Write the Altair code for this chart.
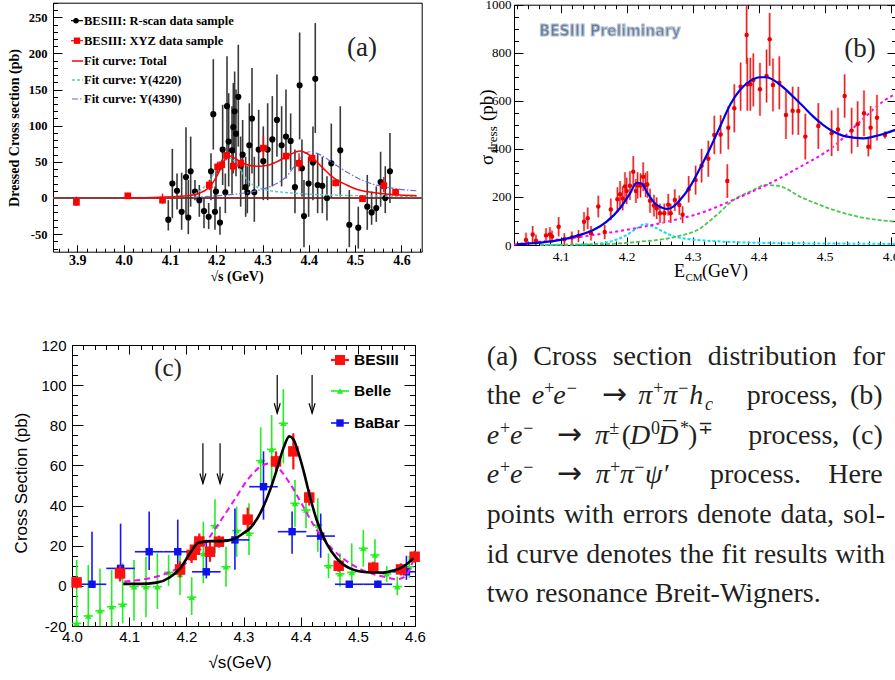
import altair as alt
import pandas as pd

W, H = 895, 680

# ====================== DATA ======================
# ---- (a) e+e- -> pi+ pi- h_c ----
a_rscan_E = [4.0965, 4.1052, 4.1153, 4.1253, 4.1347, 4.1397, 4.1448, 4.1541, 4.1635, 4.1736,
             4.1837, 4.1887, 4.1937, 4.1973, 4.1995, 4.2081, 4.2139, 4.2197, 4.2233, 4.2269,
             4.2341, 4.2369, 4.2398, 4.2427, 4.2477, 4.2528, 4.2571, 4.2636, 4.2672, 4.2715,
             4.2773, 4.2823, 4.2917, 4.3017, 4.3111, 4.3212, 4.3312, 4.3413, 4.3507, 4.3608,
             4.3701, 4.3802, 4.3852, 4.3896, 4.3996, 4.4090, 4.4140, 4.4191, 4.4292, 4.4392,
             4.4486, 4.4680, 4.4875, 4.5069, 4.5263, 4.5357, 4.5458, 4.5551, 4.5652, 4.5753]
a_rscan_v = [-30, 20, 10, -19, 29, -27, 37, 9, -3, -18,
             -26, 37, 116, -19, 9, -34, 67, 8, 127, 78,
             66, 98, 120, 89, 140, 44, 60, 15, 8, 73,
             110, 8, 67, 51, 67, 81, 108, 73, 85, 79,
             15, 156, 41, -25, 20, 49, 165, 18, 17, 0,
             48, 66, -37, -41, -12, -20, -14, 22, 0, 37]
a_rscan_lo = [-45, -28, -16, -44, -26, -50, -12, -3, -26, -42,
              -43, -3, 67, -44, -20, -51, 18, -21, 57, 16,
              6, 34, 62, 30, 71, -12, 11, -26, -21, 16,
              34, -33, 16, -3, -3, 16, 57, 16, 27, 39,
              -21, 81, 2, -68, -26, -3, 90, -21, -21, -31,
              0, 2, -68, -70, -44, -37, -33, -12, -21, -7]
a_rscan_hi = [-3, 68, 34, 35, 98, 25, 85, 25, 18, 0,
              -7, 62, 192, 16, 40, -12, 129, 34, 196, 145,
              127, 159, 175, 150, 212, 85, 108, 57, 44, 131,
              180, 57, 122, 99, 131, 141, 171, 127, 150, 117,
              67, 229, 81, 25, 57, 99, 242, 62, 57, 30,
              103, 127, 11, -12, 32, 9, 16, 64, 44, 90]
a_xyz_E = [3.898, 4.009, 4.084, 4.185, 4.203, 4.212, 4.2225, 4.237, 4.253,
           4.302, 4.351, 4.379, 4.407, 4.458, 4.516, 4.562, 4.5875]
a_xyz_v = [-6, 3, -3, 18, 43, 46, 59, 44, 48, 69, 58, 48, 55, 21, -1, 17, 8]
a_xyz_lo = [-11, 0, -8, 11, 34, 39, 53, 37, 42, 57, 53, 37, 51, 16, -5, 8, 5]
a_xyz_hi = [2, 6, 6, 25, 50, 53, 64, 50, 54, 86, 62, 62, 60, 26, 4, 29, 11]
a_tot_E = [4.0066, 4.0785, 4.1145, 4.1505, 4.1649, 4.1793, 4.1937, 4.2045, 4.2153, 4.2225,
           4.2297, 4.2369, 4.2477, 4.2585, 4.2729, 4.2946, 4.3161, 4.3305, 4.3449, 4.3593,
           4.3737, 4.3809, 4.3881, 4.4025, 4.4169, 4.4313, 4.4457, 4.4601, 4.4817, 4.5033,
           4.5249, 4.5609, 4.5969, 4.6329]
a_tot_v = [0, 1, 2, 4, 7, 12, 22, 34, 49, 57,
           58, 56, 52, 48, 45, 44, 46, 50, 55, 60,
           64, 65, 64, 59, 50, 41, 32, 25, 18, 12,
           9, 6, 4, 3]
a_y4220_E = [4.0785, 4.1361, 4.1649, 4.1865, 4.2009, 4.2153, 4.2297, 4.2405, 4.2513, 4.2657,
             4.2801, 4.3089, 4.3449, 4.3809, 4.4529, 4.5249, 4.6329]
a_y4220_v = [1, 3, 10, 25, 40, 50, 55, 50, 40, 26, 18, 11, 8, 6, 4, 3, 2]
a_y4390_E = [4.1505, 4.2009, 4.2369, 4.2729, 4.3089, 4.3305, 4.3521, 4.3665, 4.3773, 4.3881,
             4.4025, 4.4241, 4.4529, 4.4817, 4.5105, 4.5393, 4.5681, 4.5969, 4.6329]
a_y4390_v = [1, 3, 5, 8, 14, 20, 30, 42, 52, 60, 64, 60, 48, 36, 26, 19, 15, 12, 10]
a_xticks = [3.9, 4.0, 4.1, 4.2, 4.3, 4.4, 4.5, 4.6]
a_yticks = [-50, 0, 50, 100, 150, 200, 250]

# ---- (b) e+e- -> pi (D0 D*bar) ----
b_E = [4.0475, 4.0576, 4.0626, 4.0778, 4.0838, 4.0869, 4.097, 4.1056, 4.117, 4.127,
       4.1354, 4.141, 4.146, 4.157, 4.1667, 4.176, 4.186, 4.19, 4.194, 4.1975,
       4.2, 4.205, 4.21, 4.214, 4.2166, 4.221, 4.225, 4.2288, 4.2313, 4.2354,
       4.2414, 4.2455, 4.2505, 4.257, 4.263, 4.2667, 4.273, 4.2798, 4.2848, 4.294,
       4.3045, 4.3136, 4.3237, 4.3328, 4.3424, 4.3525, 4.354, 4.3631, 4.3727, 4.3818,
       4.3828, 4.3874, 4.3919, 4.402, 4.412, 4.4167, 4.4217, 4.4313, 4.4414, 4.4515,
       4.4601, 4.4707, 4.4904, 4.5106, 4.5202, 4.5303, 4.5409, 4.55, 4.5596, 4.5662,
       4.5697, 4.5793, 4.5914]
b_v = [21, 44, 18, 40, 44, 35, 76, 24, 31, 37,
       97, 111, 49, 160, 54, 148, 190, 211, 194, 243,
       225, 247, 305, 225, 248, 248, 284, 250, 252, 184,
       164, 153, 132, 132, 168, 132, 187, 166, 126, 232,
       270, 330, 359, 458, 460, 266, 488, 569, 659, 874,
       669, 669, 687, 648, 703, 856, 666, 675, 541, 559,
       558, 451, 495, 465, 481, 620, 476, 503, 548, 409,
       488, 530, 458]
b_err = [30, 35, 25, 30, 30, 25, 40, 25, 25, 25,
         40, 45, 30, 45, 30, 45, 50, 55, 50, 60,
         55, 60, 65, 50, 55, 50, 60, 50, 55, 50,
         45, 45, 40, 40, 45, 40, 45, 40, 35, 55,
         60, 70, 75, 80, 80, 70, 90, 100, 100, 120,
         110, 110, 110, 110, 110, 110, 110, 110, 100, 100,
         100, 95, 95, 95, 90, 90, 95, 95, 95, 40,
         90, 95, 15]
b_fit_E = [4.0333, 4.0687, 4.1, 4.1293, 4.1495, 4.1697, 4.1899, 4.2051, 4.2152, 4.2227,
           4.2303, 4.2429, 4.2556, 4.2606, 4.2707, 4.2808, 4.296, 4.3111, 4.3263, 4.3414,
           4.3566, 4.3717, 4.3869, 4.402, 4.4121, 4.4222, 4.4374, 4.4525, 4.4677, 4.4828,
           4.498, 4.5131, 4.5283, 4.5434, 4.5586, 4.5737, 4.5889, 4.6091]
b_fit_v = [3, 10, 21, 42, 62, 97, 153, 215, 259, 256,
           222, 173, 153, 150, 160, 187, 243, 319, 402, 492,
           583, 645, 682, 698, 698, 687, 656, 617, 576, 534,
           499, 472, 454, 447, 444, 451, 462, 480]
b_bkg_E = [4.0293, 4.0687, 4.1242, 4.1747, 4.2253, 4.2707, 4.3111, 4.3616, 4.4121, 4.4626,
           4.5131, 4.5535, 4.5914, 4.6081]
b_bkg_v = [2, 14, 32, 52, 76, 103, 132, 188, 250, 325, 409, 513, 603, 630]
b_r2_E = [4.0687, 4.1697, 4.2202, 4.2707, 4.3111, 4.3364, 4.3616, 4.3869, 4.4121, 4.4373,
          4.4626, 4.4879, 4.5131, 4.5383, 4.5636, 4.5888, 4.6081]
b_r2_v = [0, 4, 14, 32, 69, 125, 187, 222, 250, 240, 201, 172, 146, 126, 111, 102, 97]
b_r1_E = [4.0687, 4.1444, 4.1798, 4.2, 4.2152, 4.2278, 4.2404, 4.2556, 4.2707, 4.296,
          4.3212, 4.3717, 4.4222, 4.5232, 4.6081]
b_r1_v = [0, 3, 18, 42, 69, 87, 76, 55, 37, 24, 18, 11, 8, 6, 4]
b_xticks = [4.1, 4.2, 4.3, 4.4, 4.5, 4.6]
b_yticks = [0, 200, 400, 600, 800, 1000]

# ---- (c) e+e- -> pi+ pi- psi' ----
c_bes_E = [4.008, 4.084, 4.189, 4.2093, 4.215, 4.2227, 4.2414, 4.257, 4.3073, 4.3569,
           4.3872, 4.415, 4.4665, 4.527, 4.5755, 4.5994]
c_bes_v = [1.7, 6.2, 8.2, 15.4, 18, 22.1, 17, 22, 33, 62, 67, 44, 10, 9, 8.2, 14.5]
c_bes_err = [3, 4, 4, 4, 4, 4, 5, 3, 6, 5, 9, 4, 3, 3, 3, 3]
c_belle_E = [4.0082, 4.0285, 4.049, 4.0694, 4.0886, 4.1085, 4.1294, 4.1493, 4.169, 4.189,
             4.2094, 4.2297, 4.2501, 4.2694, 4.288, 4.3096, 4.3301, 4.3493, 4.3697, 4.3901,
             4.4093, 4.43, 4.4487, 4.4688, 4.4893, 4.5096, 4.53, 4.5505, 4.569, 4.59]
c_belle_v = [-18.7, -15.0, -12.4, -10.4, -9.2, -0.4, -0.4, -0.4, 6.7, 5.7,
             -5.7, 16, 30, 9.5, 27.5, 26.2, 62.4, 68, 81, 41.1,
             37.8, 30.3, 10, 6, 6.7, 18.7, 15.4, 6, -0.4, 9.5]
c_belle_lo = [-20, -20, -20, -20, -18.7, -17.3, -15.6, -11.5, 0, -4.6,
              -14.5, 1.3, 16.2, -0.4, 14.5, 15.4, 49.4, 51.1, 61, 29.5,
              28.7, 17, 3.8, -0.4, -0.4, 9.5, 7.9, 2, -4.6, 4]
c_belle_hi = [12.9, 10.4, 8.7, 7.9, 11.2, 12.9, 14.5, 16.2, 15.4, 16.5,
              4.3, 32, 43.1, 19.5, 39.4, 41.1, 79, 85.1, 98, 52.7,
              46.9, 43.6, 16.2, 16.2, 21.2, 27.8, 23.2, 10, 4.6, 15]
c_babar_E = [4.035, 4.085, 4.135, 4.185, 4.235, 4.285, 4.335, 4.385, 4.435, 4.485, 4.535, 4.585]
c_babar_v = [0.8, 8.7, 17, 17, 7, 22.9, 49.4, 27, 24.8, 0.8, 0.8, 7]
c_babar_lo = [-1, 3, 7.9, 7.9, 3.7, 8, 33, 16, 14, -1, -1, 3]
c_babar_hi = [27, 31, 37, 33, 23, 38.6, 67, 37, 36, 2.5, 2.5, 15]
c_babar_bin = [0.025] * 12
c_fit_E = [4.0898, 4.119, 4.148, 4.1714, 4.189, 4.2064, 4.221, 4.2414, 4.262, 4.282,
           4.2997, 4.3114, 4.3289, 4.3464, 4.358, 4.3697, 4.3802, 4.3872, 4.393, 4.4047,
           4.4163, 4.428, 4.4455, 4.463, 4.4863, 4.5155, 4.5446, 4.5621, 4.5796, 4.5971]
c_fit_v = [1, 1, 1.6, 4.3, 8.7, 16.2, 21.5, 22.3, 22.3, 23.2,
           26.2, 28.7, 36, 47.7, 57.7, 68.5, 74.5, 73, 69, 57.7,
           44.4, 32.8, 21, 13.7, 8.7, 6.8, 6.6, 7.6, 9.6, 13.7]
c_alt_E = [4.0915, 4.1364, 4.1656, 4.1948, 4.2239, 4.2531, 4.2822, 4.3114, 4.3347, 4.3464,
           4.358, 4.3813, 4.4047, 4.428, 4.4571, 4.4863, 4.5155, 4.5446, 4.5679, 4.5825,
           4.5971]
c_alt_v = [2.2, 3.8, 6.2, 10.4, 17.9, 29.5, 42, 54.4, 60.2, 61,
           59.4, 51, 39.4, 27.8, 17.9, 11.2, 7, 4.6, 3.3, 4.6,
           12.9]
c_arrow_E = [4.229, 4.259, 4.359, 4.42]
c_arrow_top = [71, 71, 105, 105]
c_arrow_tip = [51, 51, 86, 86]
c_xticks = [4.0, 4.1, 4.2, 4.3, 4.4, 4.5, 4.6]
c_yticks = [-20, 0, 20, 40, 60, 80, 100, 120]

# ---- caption words ----
cap_line1 = ['(a)', 'Cross', 'section', 'distribution', 'for']
cap_line5 = ['points', 'with', 'errors', 'denote', 'data,', 'sol-']
cap_line6 = ['id', 'curve', 'denotes', 'the', 'fit', 'results', 'with']
cap_line7 = 'two resonance Breit-Wigners.'

# ====================== LAYOUT ======================
PA = dict(L=53, R=421.7, T=2.7, B=251.7, xd=[3.8474, 4.6439], yd=[-74.3, 270.2])
PB = dict(L=514, R=896, T=4.7, B=245, xd=[4.0293, 4.6081], yd=[0, 1000])
PC = dict(L=72, R=415, T=345, B=626, xd=[4.0, 4.6], yd=[-20, 120])


def xs(P):
    return alt.Scale(domain=P['xd'], range=[P['L'], P['R']], nice=False, zero=False, clamp=True)


def ys(P):
    return alt.Scale(domain=P['yd'], range=[P['B'], P['T']], nice=False, zero=False, clamp=True)


def inside(vals, dom):
    return [v for v in vals if dom[0] - 1e-9 <= v <= dom[1] + 1e-9]


def axis(orient, offset, values=None, size=0, labels=False, domain=False, **kw):
    d = dict(orient=orient, offset=offset, labels=labels, domain=domain, grid=False, title=None,
             domainColor='black', domainWidth=1, tickColor='black', tickWidth=1,
             labelFlush=False, labelOverlap=False, labelColor='black')
    if values is not None:
        d['values'] = values
    if size > 0:
        d['ticks'] = True
        d['tickSize'] = size
    else:
        d['ticks'] = False
    d.update(kw)
    return alt.Axis(**d)


def carrier(P, xax, yax):
    df = pd.DataFrame({'x': P['xd'], 'y': P['yd']})
    return alt.Chart(df).mark_point(opacity=0).encode(
        x=alt.X('x:Q', scale=xs(P), axis=xax),
        y=alt.Y('y:Q', scale=ys(P), axis=yax))


def frame_axes(P, xt, yt, xminor, yminor, xmaj, xmin, ymaj, ymin, lab_x, lab_y, all_sides=True):
    L, R, T, B = P['L'], P['R'], P['T'], P['B']
    out = [
        carrier(P, axis('bottom', B - H, xt, labels=True, **lab_x),
               axis('left', -L, yt, labels=True, labelExpr='datum.value', **lab_y)),
        carrier(P, axis('top', -B, xt, size=xmaj, domain=True),
               axis('right', L - W, yt, size=ymaj, domain=True)),
        carrier(P, axis('top', -B, xminor, size=xmin),
               axis('right', L - W, yminor, size=ymin)),
    ]
    if all_sides:
        out += [
            carrier(P, axis('bottom', T - H, xt, size=xmaj, domain=True),
                   axis('left', -R, yt, size=ymaj, domain=True)),
            carrier(P, axis('bottom', T - H, xminor, size=xmin),
                   axis('left', -R, yminor, size=ymin)),
        ]
    else:
        out += [carrier(P, axis('bottom', T - H, domain=True), axis('left', -R, domain=True))]
    return out


def vbar(P, df, x, lo, hi, color, width, opacity=1.0):
    return alt.Chart(df).mark_rule(color=color, strokeWidth=width, opacity=opacity).encode(
        x=alt.X(f'{x}:Q', scale=xs(P), axis=None),
        y=alt.Y(f'{lo}:Q', scale=ys(P), axis=None), y2=f'{hi}:Q')


def hbar(P, df, x1, x2, y, color, width):
    return alt.Chart(df).mark_rule(color=color, strokeWidth=width).encode(
        x=alt.X(f'{x1}:Q', scale=xs(P), axis=None), x2=f'{x2}:Q',
        y=alt.Y(f'{y}:Q', scale=ys(P), axis=None))


def curve(P, df, color, width, dash=None):
    mk = dict(color=color, strokeWidth=width, interpolate='monotone')
    if dash:
        mk['strokeDash'] = dash
    return alt.Chart(df).mark_line(**mk).encode(
        x=alt.X('E:Q', scale=xs(P), axis=None),
        y=alt.Y('v:Q', scale=ys(P), axis=None))


def marks(P, df, shape, size, color, x='E', y='v'):
    return alt.Chart(df).mark_point(shape=shape, size=size, filled=True, color=color, opacity=1,
                                    strokeWidth=0).encode(
        x=alt.X(f'{x}:Q', scale=xs(P), axis=None),
        y=alt.Y(f'{y}:Q', scale=ys(P), axis=None))


def ptext(rows, **mk):
    df = pd.DataFrame(rows, columns=['x', 'y', 't'])
    return alt.Chart(df).mark_text(**mk).encode(
        x=alt.X('x:Q', scale=None, axis=None),
        y=alt.Y('y:Q', scale=None, axis=None), text='t:N')


def prule(rows, color, width, dash=None):
    df = pd.DataFrame(rows, columns=['x', 'x2', 'y'])
    mk = dict(color=color, strokeWidth=width)
    if dash:
        mk['strokeDash'] = dash
    return alt.Chart(df).mark_rule(**mk).encode(
        x=alt.X('x:Q', scale=None, axis=None), x2='x2:Q',
        y=alt.Y('y:Q', scale=None, axis=None))


def pmark(rows, shape, size, color):
    df = pd.DataFrame(rows, columns=['x', 'y'])
    return alt.Chart(df).mark_point(shape=shape, size=size, filled=True, color=color, opacity=1,
                                    strokeWidth=0).encode(
        x=alt.X('x:Q', scale=None, axis=None), y=alt.Y('y:Q', scale=None, axis=None))


# Times / Liberation Serif advance widths (per em) for justified caption lines
TW = {' ': .25, '(': .333, ')': .333, ',': .25, '.': .25, '-': .333,
      'a': .444, 'b': .5, 'c': .444, 'd': .5, 'e': .444, 'f': .333, 'g': .5, 'h': .5, 'i': .278,
      'l': .278, 'm': .778, 'n': .5, 'o': .5, 'p': .5, 'r': .333, 's': .389, 't': .278, 'u': .5,
      'v': .5, 'w': .722, 'C': .667, 'B': .667, 'W': .944}


def justify(words, x0, x1, y, size):
    widths = [sum(TW.get(ch, .5) for ch in w) * size for w in words]
    gap = (x1 - x0 - sum(widths)) / (len(words) - 1)
    out, x = [], x0
    for w, wd in zip(words, widths):
        out.append((x, y, w))
        x += wd + gap
    return out


SERIF = 'Liberation Serif'
SANS = 'Liberation Sans'
layers = []

# ====================== PANEL (a) ======================
dA_r = pd.DataFrame({'E': a_rscan_E, 'v': a_rscan_v, 'lo': a_rscan_lo, 'hi': a_rscan_hi})
dA_x = pd.DataFrame({'E': a_xyz_E, 'v': a_xyz_v, 'lo': a_xyz_lo, 'hi': a_xyz_hi})
dA_zero = pd.DataFrame({'E': PA['xd'], 'v': [0, 0]})
a_xminor = inside([round(3.86 + 0.02 * i, 3) for i in range(45)], PA['xd'])
a_yminor = inside([-70 + 10 * i for i in range(40)], PA['yd'])
layers += frame_axes(PA, a_xticks, a_yticks, a_xminor, a_yminor, 7, 3.5, 9, 4.5,
                     dict(format='.1f', labelFont=SERIF, labelFontWeight='bold', labelFontSize=14,
                          labelPadding=2),
                     dict(labelFont=SERIF, labelFontWeight='bold', labelFontSize=12.5, labelPadding=6),
                     all_sides=False)
layers += [
    curve(PA, dA_zero, '#8b3a3a', 2),
    vbar(PA, dA_r, 'E', 'lo', 'hi', '#3a3a3a', 1.6),
    marks(PA, dA_r, 'circle', 38, 'black'),
    curve(PA, pd.DataFrame({'E': a_y4220_E, 'v': a_y4220_v}), '#5cc8c8', 1.4, [3, 2]),
    curve(PA, pd.DataFrame({'E': a_y4390_E, 'v': a_y4390_v}), '#6a6ad8', 1.2, [6, 2, 1.5, 2]),
    curve(PA, pd.DataFrame({'E': a_tot_E, 'v': a_tot_v}), '#ff0000', 1.5),
    vbar(PA, dA_x, 'E', 'lo', 'hi', '#ff0000', 1.4),
    marks(PA, dA_x, 'square', 45, '#ff0000'),
]
leg_a_y = [20.7, 40.7, 61, 80, 99]
layers += [
    prule([(71, 83, leg_a_y[0])], 'black', 1.2),
    pmark([(76, leg_a_y[0])], 'circle', 30, 'black'),
    prule([(71, 83, leg_a_y[1])], '#ff0000', 1.2),
    pmark([(77, leg_a_y[1])], 'square', 40, '#ff0000'),
    prule([(72, 83, leg_a_y[2])], '#ff0000', 1.5),
    prule([(72, 83, leg_a_y[3])], '#5cc8c8', 1.4, [3, 2]),
    prule([(72, 83, leg_a_y[4])], '#6a6ad8', 1.2, [6, 2, 1.5, 2]),
    ptext([(84, leg_a_y[0], 'BESIII: R-scan data sample'),
           (84, leg_a_y[1], 'BESIII: XYZ data sample'),
           (84, leg_a_y[2], 'Fit curve: Total'),
           (84, leg_a_y[3], 'Fit curve: Y(4220)'),
           (84, leg_a_y[4], 'Fit curve: Y(4390)')],
          font=SERIF, fontSize=12.5, fontWeight='bold', align='left', baseline='middle', color='black'),
    ptext([(15, 128, 'Dressed Cross section (pb)')], font=SERIF, fontSize=14, fontWeight='bold',
          angle=270, align='center', baseline='middle', color='black'),
    ptext([(237, 277, '√s (GeV)')], font=SERIF, fontSize=14, fontWeight='bold',
          align='center', baseline='middle', color='black'),
    ptext([(362, 48, '(a)')], font=SERIF, fontSize=27, align='center', baseline='middle', color='#222222'),
]

# ====================== PANEL (b) ======================
dB = pd.DataFrame({'E': b_E, 'v': b_v, 'err': b_err})
dB = dB.assign(lo=dB.v - dB.err, hi=dB.v + dB.err)
b_xminor = inside([round(4.1 + k / 60.0, 4) for k in range(-4, 32)], PB['xd'])
b_yminor = [50 * i for i in range(21)]
layers += frame_axes(PB, b_xticks, b_yticks, b_xminor, b_yminor, 8, 4, 9, 4.5,
                     dict(format='.1f', labelFont=SERIF, labelFontSize=13.5, labelPadding=4),
                     dict(labelFont=SERIF, labelFontSize=13, labelPadding=3))
layers += [
    curve(PB, pd.DataFrame({'E': b_r1_E, 'v': b_r1_v}), '#00e5ee', 2, [3, 2]),
    curve(PB, pd.DataFrame({'E': b_r2_E, 'v': b_r2_v}), '#4cc84c', 1.8, [4, 2]),
    curve(PB, pd.DataFrame({'E': b_bkg_E, 'v': b_bkg_v}), '#ff00ff', 2, [3, 3]),
    vbar(PB, dB, 'E', 'lo', 'hi', '#f4a0a0', 2.4),
    vbar(PB, dB, 'E', 'lo', 'hi', '#e81010', 1),
    marks(PB, dB, 'circle', 20, '#ee0000'),
    curve(PB, pd.DataFrame({'E': b_fit_E, 'v': b_fit_v}), '#0000e8', 2.2),
    ptext([(610, 31, 'BESIII Preliminary')],
          font='Liberation Sans Narrow, DejaVu Sans Condensed, Liberation Sans', fontSize=15.5,
          fontWeight='bold', align='center', baseline='middle', color='#5e7190',
          stroke='#b3bfd0', strokeWidth=1.1),
    ptext([(860, 49, '(b)')], font=SERIF, fontSize=27, align='center', baseline='middle', color='#222222'),
    ptext([(674, 276.5, 'E'), (702, 276.5, '(GeV)')], font=SERIF, fontSize=18, align='left',
          baseline='alphabetic', color='black'),
    ptext([(685.5, 281, 'CM')], font=SERIF, fontSize=11, align='left', baseline='alphabetic', color='black'),
    ptext([(493, 165, 'σ'), (493, 121, '(pb)')], font=SERIF, fontSize=19, angle=270, align='left',
          baseline='alphabetic', color='black'),
    ptext([(497, 153, 'dress')], font=SERIF, fontSize=13, angle=270, align='left',
          baseline='alphabetic', color='black'),
]

# ====================== PANEL (c) ======================
dC_b = pd.DataFrame({'E': c_bes_E, 'v': c_bes_v, 'err': c_bes_err})
dC_b = dC_b.assign(lo=dC_b.v - dC_b.err, hi=dC_b.v + dC_b.err)
dC_l = pd.DataFrame({'E': c_belle_E, 'v': c_belle_v, 'lo': c_belle_lo, 'hi': c_belle_hi})
dC_l = dC_l.assign(xl=dC_l.E - 0.008, xh=dC_l.E + 0.008)
dC_y = pd.DataFrame({'E': c_babar_E, 'v': c_babar_v, 'lo': c_babar_lo, 'hi': c_babar_hi, 'bw': c_babar_bin})
dC_y = dC_y.assign(xl=dC_y.E - dC_y.bw, xh=dC_y.E + dC_y.bw)
dC_a = pd.DataFrame({'E': c_arrow_E, 'top': c_arrow_top, 'tip': c_arrow_tip})
c_xminor = [round(4.0 + 0.02 * i, 3) for i in range(31)]
c_yminor = [-20 + 5 * i for i in range(29)]
layers += frame_axes(PC, c_xticks, c_yticks, c_xminor, c_yminor, 9, 4.5, 11, 5.5,
                     dict(format='.1f', labelFont=SANS, labelFontSize=15, labelPadding=3),
                     dict(labelFont=SANS, labelFontSize=15, labelPadding=6))
layers += [
    vbar(PC, dC_l, 'E', 'lo', 'hi', '#22ee22', 1.6),
    hbar(PC, dC_l, 'xl', 'xh', 'v', '#22ee22', 1.6),
    marks(PC, dC_l, 'triangle-up', 42, '#22ee22'),
    vbar(PC, dC_y, 'E', 'lo', 'hi', '#1515ff', 1.6),
    hbar(PC, dC_y, 'xl', 'xh', 'v', '#1515ff', 1.6),
    marks(PC, dC_y, 'square', 55, '#1010ee'),
    curve(PC, pd.DataFrame({'E': c_alt_E, 'v': c_alt_v}), '#ee10ee', 2, [6, 4]),
    vbar(PC, dC_b, 'E', 'lo', 'hi', '#ff1010', 2.2),
    marks(PC, dC_b, 'square', 110, '#ff1010'),
    curve(PC, pd.DataFrame({'E': c_fit_E, 'v': c_fit_v}), 'black', 2.6),
    vbar(PC, dC_a, 'E', 'tip', 'top', 'black', 1.2),
    alt.Chart(dC_a).mark_point(shape='M-0.3,-1L0,0L0.3,-1', size=400, filled=False, color='black',
                               strokeWidth=1.2, opacity=1).encode(
        x=alt.X('E:Q', scale=xs(PC), axis=None), y=alt.Y('tip:Q', scale=ys(PC), axis=None)),
    prule([(331, 349, 360)], '#ff1010', 2.2),
    pmark([(340, 360)], 'square', 100, '#ff1010'),
    prule([(331, 349, 391)], '#22ee22', 1.6),
    pmark([(340, 391)], 'triangle-up', 42, '#22ee22'),
    prule([(331, 349, 423)], '#1515ff', 1.6),
    pmark([(340, 423)], 'square', 55, '#1010ee'),
    ptext([(354, 360, 'BESIII'), (354, 391, 'Belle'), (354, 423, 'BaBar')], font=SANS, fontSize=15.5,
          fontWeight='bold', align='left', baseline='middle', color='black'),
    ptext([(22, 483, 'Cross Section (pb)')], font=SANS, fontSize=17, angle=270, align='center',
          baseline='middle', color='black'),
    ptext([(240, 663, '√s(GeV)')], font=SANS, fontSize=17, align='center', baseline='middle', color='black'),
    ptext([(168, 368, '(c)')], font=SERIF, fontSize=25, align='center', baseline='middle', color='#222222'),
]

# ====================== CAPTION ======================
L1, L2, L3, L4, L5, L6, L7 = 365, 404, 443.5, 483.3, 522.7, 562.7, 601.5
CX0, CX1, CFS = 486.7, 885, 28
cap_up = (justify(cap_line1, CX0, CX1, L1, CFS) + justify(cap_line5, CX0, CX1, L5, CFS)
          + justify(cap_line6, CX0, CX1, L6, CFS) + [(CX0, L7, cap_line7)] + [
    (486.7, L2, 'the'), (746.7, L2, 'process,'), (850, L2, '(b)'),
    (621.7, L3, '('), (688, L3, ')'), (748.3, L3, 'process,'), (851.7, L3, '(c)'),
    (664, L4, '′'), (710, L4, 'process.'), (828.3, L4, 'Here'),
])
cap_arrow = [(601.7, L2, '→'), (556.7, L3, '→'), (556.7, L4, '→')]
cap_it = [
    (531.7, L2, 'e'), (553.3, L2, 'e'), (638.3, L2, 'π'), (663.3, L2, 'π'), (689.3, L2, 'h'),
    (486.7, L3, 'e'), (510, L3, 'e'), (595, L3, 'π'), (630, L3, 'D'), (658.3, L3, 'D'),
    (486.7, L4, 'e'), (510, L4, 'e'), (595.7, L4, 'π'), (620, L4, 'π'), (645, L4, 'ψ'),
]
cap_sup = [
    (544.3, L2 - 10, '+'), (566.7, L2 - 10, '−'), (653.3, L2 - 10, '+'), (678.3, L2 - 10, '−'),
    (500, L3 - 10, '+'), (523.3, L3 - 10, '−'), (609.3, L3 - 10, '±'), (651, L3 - 10, '0'),
    (680, L3 - 10, '*'), (698, L3 - 10, '∓'),
    (500, L4 - 10, '+'), (523.3, L4 - 10, '−'), (610, L4 - 10, '+'), (634.3, L4 - 10, '−'),
]
CAPC = '#231f20'
layers += [
    ptext(cap_up, font=SERIF, fontSize=CFS, align='left', baseline='alphabetic', color=CAPC),
    ptext(cap_arrow, font='DejaVu Sans', fontSize=30, align='left', baseline='alphabetic', color=CAPC),
    ptext(cap_it, font=SERIF, fontSize=CFS, fontStyle='italic', align='left', baseline='alphabetic', color=CAPC),
    ptext(cap_sup, font=SERIF, fontSize=18, align='left', baseline='alphabetic', color=CAPC),
    ptext([(705, L2 + 6, 'c')], font=SERIF, fontSize=18, fontStyle='italic', align='left',
          baseline='alphabetic', color=CAPC),
    ptext([(663, L3 - 5, '¯')], font=SERIF, fontSize=26, align='left', baseline='alphabetic', color=CAPC),
]

chart = alt.layer(*layers).resolve_scale(x='independent', y='independent').resolve_axis(
    x='independent', y='independent').properties(
    width=W, height=H, autosize=alt.AutoSizeParams(type='none'), padding=0, background='white'
).configure_view(stroke=None)

chart.save('out.html', embed_options={'renderer': 'svg', 'actions': False})
